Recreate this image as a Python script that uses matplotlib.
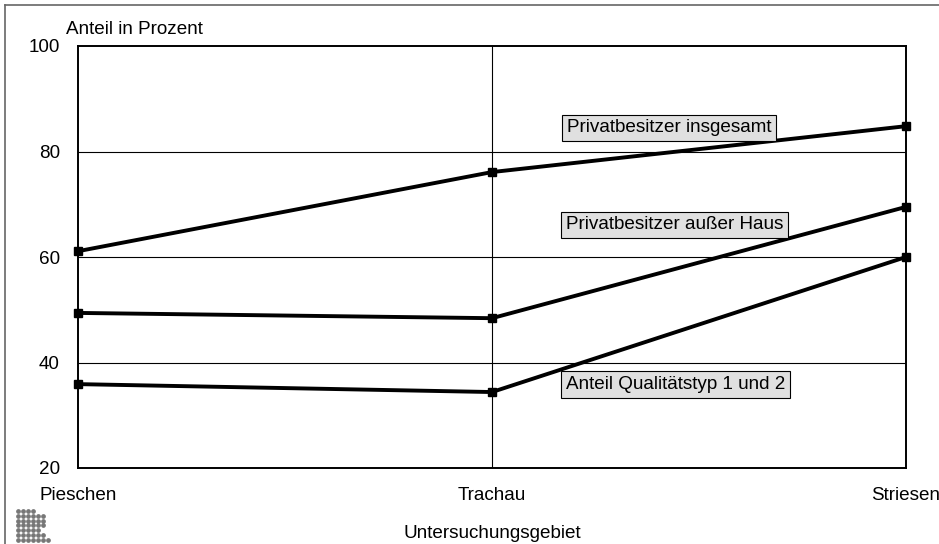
import matplotlib
matplotlib.use("Agg")
import matplotlib.pyplot as plt
from matplotlib.lines import Line2D

plt.rcParams["font.family"] = ["Liberation Sans", "DejaVu Sans"]

# data
gebiete = ["Pieschen", "Trachau", "Striesen"]
insgesamt = [61.1, 76.1, 84.8]
ausser_haus = [49.4, 48.4, 69.5]
qualitaet = [35.9, 34.4, 60.0]
serien_namen = ["Privatbesitzer insgesamt", "Privatbesitzer außer Haus",
                "Anteil Qualitätstyp 1 und 2"]
y_ticks = [20, 40, 60, 80, 100]

# dotted logo, bottom-left (row -> number of dots)
logo_rows = [4, 6, 6, 6, 5, 6, 7]

FS = 13.6

fig = plt.figure(figsize=(9.39, 5.44), dpi=100, facecolor="white")
ax = fig.add_axes([78 / 939, 1 - 468 / 544, (906 - 78) / 939, (468 - 46) / 544])

x = list(range(len(gebiete)))
for serie in (insgesamt, ausser_haus, qualitaet):
    ax.plot(x, serie, color="black", lw=2.8, marker="s", ms=5.5,
            solid_joinstyle="miter", clip_on=False, zorder=3)

ax.set_xlim(0, 2)
ax.set_ylim(20, 100)
ax.set_yticks(y_ticks)
ax.set_xticks(x)
ax.set_xticklabels(gebiete)
ax.tick_params(axis="both", length=0, labelsize=FS)
ax.tick_params(axis="y", pad=13)
ax.tick_params(axis="x", pad=14)

for yv in (40, 60, 80):
    ax.axhline(yv, color="black", lw=0.8, zorder=1)
ax.axvline(1, color="black", lw=0.8, zorder=1)
for s in ax.spines.values():
    s.set_linewidth(1.4)

# boxed series labels
box = dict(boxstyle="square,pad=0.25", facecolor="#e0e0e0",
           edgecolor="black", lw=0.8)
label_pos = [(1.181, 84.5), (1.178, 66.1), (1.178, 35.8)]
for name, (lx, ly) in zip(serien_namen, label_pos):
    ax.text(lx, ly, name, fontsize=FS, ha="left", va="center", bbox=box,
            zorder=4)

fig.text(66 / 939, 1 - 30 / 544, "Anteil in Prozent", fontsize=FS,
         ha="left", va="center")
fig.text(492 / 939, 1 - 533 / 544, "Untersuchungsgebiet", fontsize=FS,
         ha="center", va="center")

# outer frame (left and top)
fig.add_artist(Line2D([5 / 939, 5 / 939], [0, 1 - 5 / 544], color="#666666",
                      lw=1.2, transform=fig.transFigure))
fig.add_artist(Line2D([5 / 939, 1], [1 - 5 / 544, 1 - 5 / 544], color="#666666",
                      lw=1.2, transform=fig.transFigure))

# logo dots
for r, n in enumerate(logo_rows):
    for c in range(n):
        fig.add_artist(Line2D([(18 + 5 * c) / 939], [1 - (511 + 4.8 * r) / 544],
                              marker="o", ms=2.4, color="#777777", lw=0,
                              transform=fig.transFigure))

fig.savefig("out.png", dpi=100, facecolor="white")
